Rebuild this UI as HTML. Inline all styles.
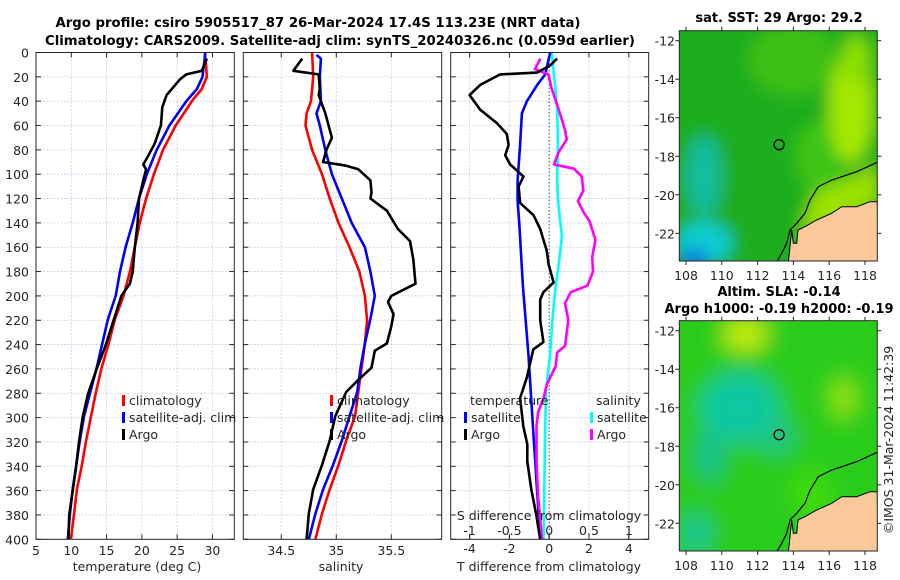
<!DOCTYPE html>
<html><head><meta charset="utf-8"><style>
body{margin:0;background:#fff;}
svg{display:block;font-family:"DejaVu Sans","Liberation Sans",sans-serif;}
.tk{font-size:12.5px;fill:#262626;font-family:"DejaVu Sans","Liberation Sans",sans-serif;}
.tt{font-size:13px;font-weight:bold;fill:#000;font-family:"DejaVu Sans","Liberation Sans",sans-serif;}
</style></head><body>
<svg id="fig" width="900" height="580" viewBox="0 0 900 580">
<text class="tt" x="318" y="27" text-anchor="middle" textLength="525" lengthAdjust="spacingAndGlyphs">Argo profile: csiro 5905517_87 26-Mar-2024 17.4S 113.23E (NRT data)</text>
<text class="tt" x="340" y="45" text-anchor="middle" textLength="590" lengthAdjust="spacingAndGlyphs">Climatology: CARS2009. Satellite-adj clim: synTS_20240326.nc (0.059d earlier)</text>
<g id="plots"></g>
<g id="maps"></g>
<text class="tk" transform="translate(893,440) rotate(-90)" text-anchor="middle">©IMOS 31-Mar-2024 11:42:39</text>
</svg>
<script>
// ---------- data ----------
const depthTicks = [0,20,40,60,80,100,120,140,160,180,200,220,240,260,280,300,320,340,360,380,400];
const tempTicks = [5,10,15,20,25,30];
const salTicks = [34.5,35,35.5];
const tdiffTicks = [-4,-2,0,2,4];
const sdiffTicks = [-1,-0.5,0,0.5,1];

const climTDepth = [0,10,20,30,39,60,80,100,120,140,160,180,200,219,239,259,279,299,319,339,359,379,400];
const climT      = [28.9,29.1,29.2,28.5,27.2,24.8,23.0,21.7,20.6,19.7,19.0,18.3,17.4,16.2,15.3,14.3,13.5,12.8,12.1,11.5,10.8,10.4,9.95];
const satTDepth  = [0,20,30,40,60,80,100,120,140,160,180,200,219,239,259,279,299,319,339,359,379,400];
const satT       = [29.0,28.6,27.8,26.3,23.9,22.1,20.7,19.6,18.7,17.7,16.9,16.3,15.2,14.4,13.6,12.7,11.8,11.2,10.7,10.2,9.8,9.5];
const argoTDepth = [5,15,18,22,35,45,60,75,85,92,96,105,120,140,160,180,190,200,220,240,260,280,300,320,340,360,380,400];
const argoT      = [29.2,28.5,26.3,25.4,23.5,22.9,22.7,21.8,20.9,20.2,20.6,20.2,19.6,19.4,19.0,18.7,18.3,17.1,16.0,14.9,13.6,12.4,11.6,11.1,10.7,10.2,9.7,9.6];

const climSDepth = [0,20,40,50,60,80,100,120,140,160,180,200,220,239,259,279,299,319,339,359,379,400];
const climS      = [34.78,34.79,34.77,34.73,34.72,34.78,34.87,34.94,35.02,35.12,35.21,35.26,35.28,35.26,35.23,35.20,35.17,35.09,35.02,34.94,34.87,34.81];
const satSDepth  = [2,5,20,40,50,60,80,100,120,140,160,180,200,219,239,259,279,299,319,339,359,379,400];
const satS       = [34.82,34.86,34.85,34.86,34.82,34.85,34.90,34.96,35.05,35.14,35.26,35.31,35.35,35.31,35.26,35.22,35.19,35.12,35.05,34.97,34.88,34.81,34.75];
const argoSDepth = [5,15,18,30,35,50,70,80,90,93,96,105,115,120,130,145,155,170,190,200,205,215,225,239,245,259,269,279,299,319,339,359,379,400];
const argoS      = [34.69,34.61,34.84,34.85,34.84,34.90,34.96,34.91,34.88,35.09,35.20,35.31,35.32,35.31,35.46,35.56,35.67,35.70,35.72,35.50,35.47,35.52,35.50,35.46,35.35,35.32,35.20,35.09,34.99,34.94,34.87,34.79,34.75,34.73];

const dTSatDepth = [0,18,27,40,50,76,105,122,142,192,249,307,365,400];
const dTSat      = [0.05,-0.2,-0.62,-1.12,-1.37,-1.46,-1.59,-1.59,-1.5,-1.32,-1.04,-0.82,-0.59,-0.45];
const dTArgoDepth= [5,10.7,16.5,18,26.6,35,47,58,67,76,84.5,92,102,110,123.6,133.7,145,163,174,189,197,203,220,238,244,267,284,307,322,336,359,380,400];
const dTArgo     = [0.39,0.05,-0.62,-2.46,-3.47,-4.0,-3.47,-2.63,-2.13,-2.04,-2.21,-1.96,-1.29,-1.54,-1.46,-0.79,-0.45,-0.12,-0.03,0.22,-0.29,-0.45,-0.45,-0.29,-0.8,-1.12,-1.46,-1.3,-1.1,-1.1,-0.9,-0.65,-0.45];
const dSSatDepth = [0,18,47,76,105,122,151,174,192,220,249,278,307,351,400];
const dSSat      = [0.03,0.06,0.1,0.11,0.1,0.11,0.16,0.12,0.08,0.04,0.01,-0.04,-0.05,-0.06,-0.07];
const dSArgoDepth= [5,13.6,18,29.5,47,64,71.5,81.6,92,95.5,102,113.5,122,131,139,154,168,180,191.6,197,206,220,241,246.6,258,272.6,284,295.5,307,336,365,400];
const dSArgo     = [-0.11,-0.18,-0.01,0.03,0.12,0.2,0.22,0.12,0.06,0.31,0.41,0.43,0.36,0.43,0.51,0.58,0.54,0.55,0.48,0.27,0.2,0.24,0.2,0.1,0.08,-0.03,-0.07,-0.14,-0.16,-0.16,-0.14,-0.09];

const latTicks = [-12,-14,-16,-18,-20,-22];
const lonTicks = [108,110,112,114,116,118];
const floatLon = 113.2, floatLat = -17.4;

// ---------- helpers ----------
const NS='http://www.w3.org/2000/svg';
function mk(tag, attrs, parent){const e=document.createElementNS(NS,tag);for(const k in attrs)e.setAttribute(k,attrs[k]);parent.appendChild(e);return e;}
const TOP=52.5, BOT=539.3;
const yD = d => TOP + d*(BOT-TOP)/400;
const plots=document.getElementById('plots');

function panel(x0,x1,xmin,xmax,ticks,name){
  const g=mk('g',{},plots);
  
  
  const sx=v=>x0+(v-xmin)*(x1-x0)/(xmax-xmin);
  const grid=mk('g',{stroke:'#c9cde6','stroke-width':0.8,'stroke-dasharray':'2,1.5'},g);
  
  
  ticks.forEach(t=>mk('line',{x1:sx(t),x2:sx(t),y1:TOP,y2:BOT},grid));
  depthTicks.forEach(d=>mk('line',{x1:x0,x2:x1,y1:yD(d),y2:yD(d)},grid));
  const tk=mk('g',{stroke:'#262626','stroke-width':1},g);
  depthTicks.forEach(d=>{mk('line',{x1:x0,x2:x0+5,y1:yD(d),y2:yD(d)},tk);mk('line',{x1:x1-5,x2:x1,y1:yD(d),y2:yD(d)},tk);});
  ticks.forEach(t=>{mk('line',{x1:sx(t),x2:sx(t),y1:BOT,y2:BOT-5},tk);mk('line',{x1:sx(t),x2:sx(t),y1:TOP,y2:TOP+5},tk);});
  return {g,sx};
}
function line(p,xs,ds,color,name){
  const pts=xs.map((v,i)=>p.sx(v).toFixed(1)+','+yD(ds[i]).toFixed(1)).join(' ');
  const e=mk('polyline',{points:pts,fill:'none',stroke:color,'stroke-width':2.6,'stroke-linejoin':'round'},p.g);
  
  
}
function frame(x0,x1,g){mk('rect',{x:x0,y:TOP,width:x1-x0,height:BOT-TOP,fill:'none',stroke:'#262626','stroke-width':1},g);}
function txt(s,x,y,anchor,parent,name,extra){
  const e=mk('text',Object.assign({x:x,y:y,'text-anchor':anchor,class:'tk'},extra||{}),parent);
  e.textContent=s;
  
  
  return e;
}
function legend(g,x,y,color,label,name){
  mk('rect',{x:x,y:y-10,width:3,height:11,fill:color},g);
  txt(label,x+7,y,'start',g,name);
}

// ---------- panel 1: temperature ----------
const p1=panel(36,234.3,5,33.1,tempTicks,'temperature-panel');
line(p1,climT,climTDepth,'#ff0000','temp-climatology-line');
line(p1,satT,satTDepth,'#0000ff','temp-satellite-line');
line(p1,argoT,argoTDepth,'#000000','temp-argo-line');
frame(36,234.3,p1.g);
depthTicks.forEach(d=>txt(String(d),29,yD(d)+5,'end',p1.g,'depth-tick-label'));
tempTicks.forEach(t=>txt(String(t),p1.sx(t),555,'middle',p1.g,'temp-tick-label'));
txt('temperature (deg C)',137,571,'middle',p1.g,'temp-axis-title');
legend(p1.g,122,405,'#ff0000','climatology','legend-climatology');
legend(p1.g,122,422,'#0000ff','satellite-adj. clim','legend-satellite');
legend(p1.g,122,439,'#000000','Argo','legend-argo');

// ---------- panel 2: salinity ----------
const p2=panel(243.3,441.7,34.155,35.958,salTicks,'salinity-panel');
line(p2,climS,climSDepth,'#ff0000','sal-climatology-line');
line(p2,satS,satSDepth,'#0000ff','sal-satellite-line');
line(p2,argoS,argoSDepth,'#000000','sal-argo-line');
frame(243.3,441.7,p2.g);
salTicks.forEach(t=>txt(String(t),p2.sx(t),555,'middle',p2.g,'sal-tick-label'));
txt('salinity',341,571,'middle',p2.g,'sal-axis-title');
legend(p2.g,330,405,'#ff0000','climatology','legend-climatology-2');
legend(p2.g,330,422,'#0000ff','satellite-adj. clim','legend-satellite-2');
legend(p2.g,330,439,'#000000','Argo','legend-argo-2');

// ---------- panel 3: differences ----------
const p3=panel(450.7,648.7,-4.95,5.0,tdiffTicks,'difference-panel');
const p3s={g:p3.g,sx:v=>p3.sx(v*4)};
mk('line',{x1:p3.sx(0),x2:p3.sx(0),y1:TOP,y2:BOT,stroke:'#555','stroke-width':1,'stroke-dasharray':'1.5,2'},p3.g);
line(p3s,dSSat,dSSatDepth,'#00ffff','sdiff-satellite-line');
line(p3,dTSat,dTSatDepth,'#0000ff','tdiff-satellite-line');
line(p3s,dSArgo,dSArgoDepth,'#ff00ff','sdiff-argo-line');
line(p3,dTArgo,dTArgoDepth,'#000000','tdiff-argo-line');
frame(450.7,648.7,p3.g);
tdiffTicks.forEach(t=>txt(String(t),p3.sx(t),553,'middle',p3.g,'tdiff-tick-label'));
txt('T difference from climatology',549,571,'middle',p3.g,'tdiff-axis-title');
sdiffTicks.forEach(t=>{mk('line',{x1:p3s.sx(t),x2:p3s.sx(t),y1:BOT,y2:BOT-5,stroke:'#262626'},p3.g);txt(String(t),p3s.sx(t),535,'middle',p3.g,'sdiff-tick-label');});
txt('S difference from climatology',549,520,'middle',p3.g,'sdiff-axis-title');
txt('temperature',470,405,'start',p3.g,'legend-temperature-heading');
legend(p3.g,464,422,'#0000ff','satellite','legend-tdiff-satellite');
legend(p3.g,464,439,'#000000','Argo','legend-tdiff-argo');
txt('salinity',596,405,'start',p3.g,'legend-salinity-heading');
legend(p3.g,590,422,'#00ffff','satellite','legend-sdiff-satellite');
legend(p3.g,590,439,'#ff00ff','Argo','legend-sdiff-argo');

// ---------- maps ----------
const maps=document.getElementById('maps');
const MX0=679.3,MX1=877.3;
const lonX=l=>686+(l-108)*17.9;
function makeMap(top,name,kind){
  const g=mk('g',{},maps);
  
  
  const bot=top+230.3;
  const latY=l=>top+10+(-12-l)*19.26;
  const id='clip'+kind;
  const cp=mk('clipPath',{id:id},g);mk('rect',{x:MX0,y:top,width:MX1-MX0,height:bot-top},cp);
  const f=mk('filter',{id:'bl'+kind,x:'-50%',y:'-50%',width:'200%',height:'200%'},g);mk('feGaussianBlur',{stdDeviation:kind==='sst'?8:11},f);
  const c=mk('g',{'clip-path':'url(#'+id+')'},g);
  const b=mk('g',{filter:'url(#bl'+kind+')'},c);
  if(kind==='sst'){
    mk('rect',{x:MX0-30,y:top-30,width:260,height:300,fill:'#1fae1c'},b);
    mk('ellipse',{cx:lonX(114),cy:latY(-13),rx:45,ry:35,fill:'#3cc014'},b);
    mk('ellipse',{cx:lonX(115.5),cy:latY(-18),rx:25,ry:35,fill:'#3cc414'},b);
    mk('ellipse',{cx:lonX(117.2),cy:latY(-15.5),rx:22,ry:55,fill:'#a4e800'},b);
    mk('ellipse',{cx:lonX(117.5),cy:latY(-13),rx:14,ry:25,fill:'#8ce000'},b);
    mk('ellipse',{cx:lonX(109),cy:latY(-19),rx:18,ry:40,fill:'#14bca0'},b);
    mk('ellipse',{cx:lonX(109),cy:latY(-22.5),rx:28,ry:22,fill:'#10ccd0'},b);
    mk('ellipse',{cx:lonX(108.5),cy:latY(-23.3),rx:14,ry:9,fill:'#0a64e8'},b);
    mk('polygon',{points:[[812,195],[877,166],[877,203],[800,238]].map(p=>p[0]+','+(p[1]-30.7+top)).join(' '),fill:'#9ce200'},b);
  } else {
    mk('rect',{x:MX0-30,y:top-30,width:260,height:300,fill:'#2ccc1c'},b);
    mk('ellipse',{cx:lonX(111.3),cy:latY(-12.2),rx:22,ry:16,fill:'#c8ee10'},b);
    mk('ellipse',{cx:lonX(116.8),cy:latY(-15.5),rx:12,ry:20,fill:'#96e60a'},b);
    mk('ellipse',{cx:lonX(111),cy:latY(-16),rx:40,ry:35,fill:'#10c8a0'},b);
    mk('ellipse',{cx:lonX(109.3),cy:latY(-18.5),rx:14,ry:25,fill:'#18c090'},b);
    mk('ellipse',{cx:lonX(108.6),cy:latY(-22.5),rx:14,ry:20,fill:'#14c49a'},b);
    mk('ellipse',{cx:lonX(113),cy:latY(-17.5),rx:20,ry:16,fill:'#1cc48a'},b);
    mk('ellipse',{cx:lonX(115),cy:latY(-20.5),rx:20,ry:25,fill:'#40dc10'},b);
  }
  const o=top-30.7;
  const land=[[877.3,201.7],[870,201.7],[856.7,206.7],[841.7,206.7],[831.7,213.3],[816.7,220],[805,226.7],[798,230],[796.7,243.3],[793.3,243.3],[791.7,230],[789.3,253.3],[788.3,262],[878,262]];
  const l=mk('polygon',{points:land.map(p=>p[0]+','+(p[1]+o)).join(' '),fill:'#f9c999',stroke:'#000','stroke-width':1},c);
  
  
  const coast=[[877.3,162.3],[856.7,171.7],[831.7,180],[818.3,186.7],[810,200],[805,213.3],[796.7,223.3],[790,230],[786.7,243.3],[781.7,253.3],[776.7,262]];
  const cl=mk('polyline',{points:coast.map(p=>p[0]+','+(p[1]+o)).join(' '),fill:'none',stroke:'#000','stroke-width':1.2},c);
  
  
  const fl=mk('circle',{cx:lonX(floatLon),cy:latY(floatLat),r:5,fill:'none',stroke:'#000','stroke-width':1.3},g);
  
  
  mk('rect',{x:MX0,y:top,width:MX1-MX0,height:bot-top,fill:'none',stroke:'#262626','stroke-width':1},g);
  latTicks.forEach(t=>{mk('line',{x1:MX0-4,x2:MX0,y1:latY(t),y2:latY(t),stroke:'#262626'},g);mk('line',{x1:MX1,x2:MX1+4,y1:latY(t),y2:latY(t),stroke:'#262626'},g);txt(String(t),675,latY(t)+5,'end',g,'lat-tick-label');});
  lonTicks.forEach(t=>{mk('line',{x1:lonX(t),x2:lonX(t),y1:bot,y2:bot+4,stroke:'#262626'},g);mk('line',{x1:lonX(t),x2:lonX(t),y1:top-4,y2:top,stroke:'#262626'},g);txt(String(t),lonX(t),bot+19,'middle',g,'lon-tick-label');});
}
makeMap(30.7,'sst-map','sst');
makeMap(320.7,'sla-map','sla');
txt('sat. SST: 29 Argo: 29.2',779,22,'middle',maps,'sst-map-title',{class:'tt'});
txt('Altim. SLA: -0.14',779,296,'middle',maps,'sla-map-title',{class:'tt'});
txt('Argo h1000: -0.19 h2000: -0.19',779,313,'middle',maps,'sla-map-subtitle',{class:'tt'});
</script>
</body></html>
